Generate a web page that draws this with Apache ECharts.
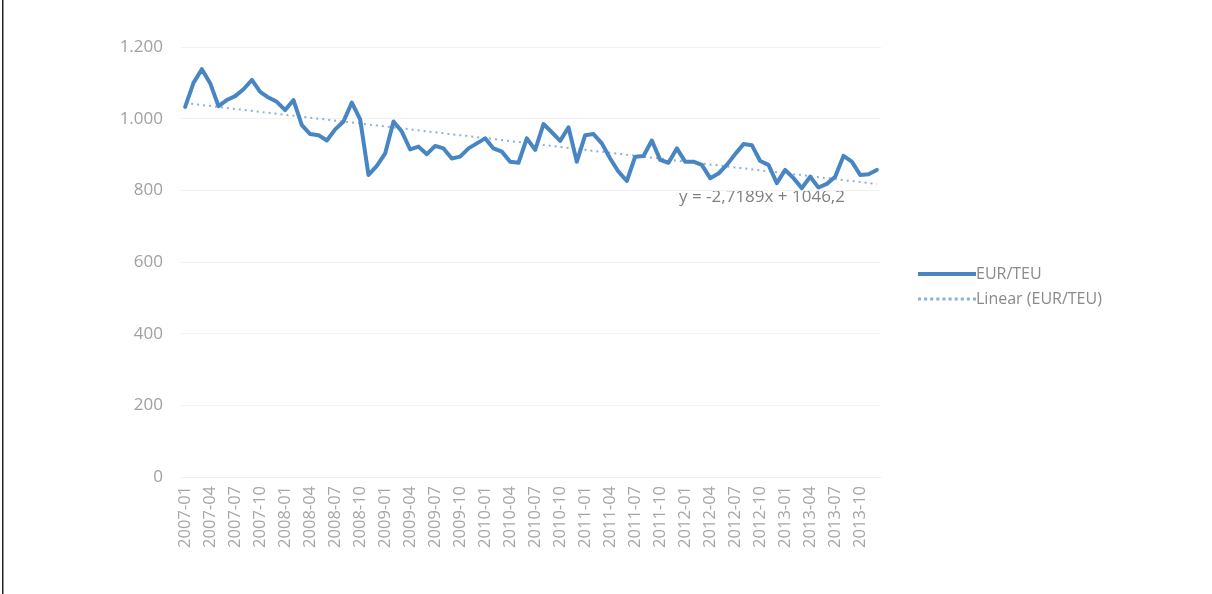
<!DOCTYPE html>
<html>
<head>
<meta charset="utf-8">
<script src="https://cdn.jsdelivr.net/npm/echarts@6/dist/echarts.min.js"></script>
<style>
html,body{margin:0;padding:0;background:#fff;}
#chart{width:1212px;height:594px;}
</style>
</head>
<body>
<div id="chart"></div>
<script>
// Months 2007-01 .. 2013-12
const years = [2007, 2008, 2009, 2010, 2011, 2012, 2013];
const months = ['01','02','03','04','05','06','07','08','09','10','11','12'];
const categories = [];
years.forEach(y => months.forEach(m => categories.push(y + '-' + m)));

const eurTeu = [
  1033, 1100, 1138, 1099, 1035, 1052, 1063, 1082, 1108, 1075, 1059, 1047,
  1024, 1052, 982, 957, 954, 939, 970, 992, 1045, 998, 843, 868,
  903, 992, 964, 914, 922, 901, 924, 917, 889, 894, 917, 931,
  945, 917, 908, 880, 877, 945, 913, 985, 962, 938, 976, 880,
  954, 957, 931, 889, 852, 826, 894, 896, 939, 885, 877, 917,
  880, 880, 871, 834, 847, 871, 901, 929, 926, 882, 871, 820,
  857, 834, 806, 838, 808, 818, 838, 896, 880, 843, 845, 857
];

// Trend line as shown in the chart: y = -2,7189x + 1046,2 (x = 1..n)
const trendSlope = -2.7189;
const trendIntercept = 1046.2;
const trendLabel = 'y = -2,7189x + 1046,2';
const yTicks = [0, 200, 400, 600, 800, 1000, 1200];

const n = eurTeu.length;
const trend = eurTeu.map((v, i) => (i === 0 || i === n - 1) ? +(trendSlope * (i + 1) + trendIntercept).toFixed(1) : null);

const chart = echarts.init(document.getElementById('chart'), null, {renderer: 'canvas'});
const fontFam = '"Open Sans", "Liberation Sans", sans-serif';
const dotted = 'path://' + Array.from({length: 10}, (_, k) => 'M' + (k * 6) + ',0h3v3h-3z').join(' ');
chart.setOption({
  animation: false,
  backgroundColor: '#ffffff',
  textStyle: {fontFamily: fontFam},
  grid: {left: 181, right: 331, top: 47, bottom: 117, containLabel: false},
  legend: {
    orient: 'vertical',
    left: 913,
    top: 261,
    itemWidth: 58,
    itemHeight: 14,
    itemGap: 9,
    textStyle: {color: '#8a8a8a', fontSize: 16, fontFamily: fontFam, padding: [0, 0, 0, -5]},
    data: [
      {name: 'EUR/TEU', icon: 'path://M0,0 L60,0 L60,4 L0,4 Z'},
      {name: 'Linear (EUR/TEU)', icon: dotted}
    ]
  },
  xAxis: {
    type: 'category',
    data: categories,
    boundaryGap: true,
    axisTick: {show: false},
    axisLine: {show: true, lineStyle: {color: '#f0f0f0'}},
    axisLabel: {rotate: 90, interval: 2, color: '#a6a6a6', fontSize: 16.5, margin: 9, fontFamily: fontFam},
    splitLine: {show: false}
  },
  yAxis: {
    type: 'value',
    min: yTicks[0],
    max: yTicks[yTicks.length - 1],
    interval: 200,
    axisLine: {show: false},
    axisTick: {show: false},
    axisLabel: {
      color: '#a0a0a0', fontSize: 17, margin: 18, fontFamily: fontFam,
      formatter: v => String(v).replace(/\B(?=(\d{3})+(?!\d))/g, '.')
    },
    splitLine: {lineStyle: {color: '#f2f2f2', width: 1}}
  },
  series: [
    {
      name: 'EUR/TEU',
      type: 'line',
      data: eurTeu,
      symbol: 'none',
      lineStyle: {color: '#4785c3', width: 4, join: 'round', cap: 'round'},
      itemStyle: {color: '#4785c3'},
      z: 3
    },
    {
      name: 'Linear (EUR/TEU)',
      type: 'line',
      data: trend,
      connectNulls: true,
      symbol: 'none',
      lineStyle: {color: '#8fb0d6', width: 2, type: [2, 4]},
      itemStyle: {color: '#8fb0d6'},
      z: 2
    }
  ],
  graphic: [
    {
      type: 'rect',
      left: 2, top: 0,
      shape: {width: 1.5, height: 594},
      style: {fill: '#222'}
    },
    {
      type: 'text',
      left: 679, top: 189,
      style: {text: trendLabel, fill: '#808080', fontSize: 17, fontFamily: fontFam}
    }
  ]
});
</script>
</body>
</html>
